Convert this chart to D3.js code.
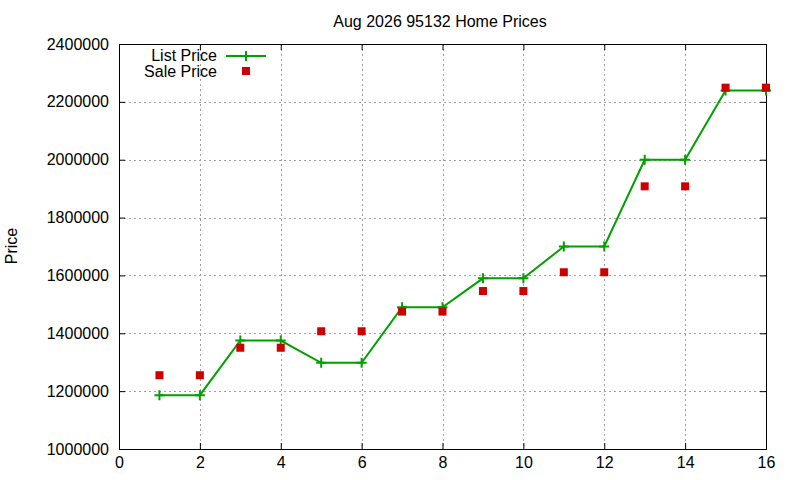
<!DOCTYPE html>
<html>
<head>
<meta charset="utf-8">
<script src="https://cdn.jsdelivr.net/npm/d3@7"></script>
<style>
  body { margin: 0; background: #fff; }
  text { font-family: "Liberation Sans", Arial, sans-serif; fill: #000; }
</style>
</head>
<body>
<script>
// data
const xs = [1, 2, 3, 4, 5, 6, 7, 8, 9, 10, 11, 12, 13, 14, 15, 16];
const listPrice = [1186000, 1186000, 1375000, 1375000, 1298000, 1298000, 1490000, 1490000,
                   1590000, 1590000, 1700000, 1700000, 2000000, 2000000, 2239000, 2239000];
const salePrice = [1255000, 1255000, 1350000, 1350000, 1407000, 1407000, 1475000, 1475000,
                   1546000, 1546000, 1611000, 1611000, 1908000, 1908000, 2249000, 2249000];
const xTicks = [0, 2, 4, 6, 8, 10, 12, 14, 16];
const yTicks = [1000000, 1200000, 1400000, 1600000, 1800000, 2000000, 2200000, 2400000];

const width = 800, height = 480;
const margin = { top: 44, right: 34, bottom: 31, left: 119 };

const svg = d3.select("body").append("svg")
    .attr("width", width)
    .attr("height", height);

const x = d3.scaleLinear().domain([0, 16]).range([margin.left, width - margin.right]);
const y = d3.scaleLinear().domain([1000000, 2400000]).range([height - margin.bottom, margin.top]);

// grid
const grid = svg.append("g").attr("stroke", "#a0a0a0").attr("stroke-width", 1).attr("stroke-dasharray", "2,3");
grid.selectAll(".gx").data(xTicks.slice(1, -1)).join("line")
    .attr("x1", d => Math.round(x(d)) + 0.5).attr("x2", d => Math.round(x(d)) + 0.5)
    .attr("y1", y.range()[1]).attr("y2", y.range()[0]);
grid.selectAll(".gy").data(yTicks.slice(1, -1)).join("line")
    .attr("y1", d => Math.round(y(d)) + 0.5).attr("y2", d => Math.round(y(d)) + 0.5)
    .attr("x1", x.range()[0]).attr("x2", x.range()[1]);

// axes, ticks pointing inward, mirrored like gnuplot
const fontSize = "16px";
const xAxis = svg.append("g")
    .attr("transform", `translate(0,${height - margin.bottom})`)
    .call(d3.axisBottom(x).tickValues(xTicks).tickSize(-6).tickPadding(8));
const xAxisTop = svg.append("g")
    .attr("transform", `translate(0,${margin.top})`)
    .call(d3.axisTop(x).tickValues(xTicks).tickSize(-6).tickFormat(""));
const yAxis = svg.append("g")
    .attr("transform", `translate(${margin.left},0)`)
    .call(d3.axisLeft(y).tickValues(yTicks).tickSize(-6).tickPadding(10).tickFormat(d3.format("d")));
const yAxisRight = svg.append("g")
    .attr("transform", `translate(${width - margin.right},0)`)
    .call(d3.axisRight(y).tickValues(yTicks).tickSize(-6).tickFormat(""));

[xAxis, xAxisTop, yAxis, yAxisRight].forEach(g => {
    g.select(".domain").remove();
    g.selectAll("line").attr("stroke", "#000");
    g.selectAll("text").style("font-size", fontSize).attr("font-family", null);
});

// frame
svg.append("rect")
    .attr("x", margin.left + 0.5).attr("y", margin.top + 0.5)
    .attr("width", x.range()[1] - x.range()[0])
    .attr("height", y.range()[0] - y.range()[1])
    .attr("fill", "none").attr("stroke", "#000").attr("stroke-width", 1);

// list price line
const green = "#00a000";
const line = d3.line().x((d, i) => x(xs[i])).y(d => y(d));
svg.append("path").datum(listPrice)
    .attr("d", line)
    .attr("fill", "none").attr("stroke", green).attr("stroke-width", 2);

// plus markers
svg.selectAll(".plus").data(listPrice).join("path")
    .attr("d", (d, i) => {
        const cx = x(xs[i]), cy = y(d);
        return `M${cx - 5},${cy}H${cx + 5}M${cx},${cy - 5}V${cy + 5}`;
    })
    .attr("stroke", green).attr("stroke-width", 2);

// sale price squares
const red = "#cc0000";
svg.selectAll(".sq").data(salePrice).join("rect")
    .attr("x", (d, i) => x(xs[i]) - 4)
    .attr("y", d => y(d) - 4)
    .attr("width", 8).attr("height", 8)
    .attr("fill", red);

// title and y label
svg.append("text")
    .attr("x", 440).attr("y", 27)
    .attr("text-anchor", "middle")
    .style("font-size", fontSize)
    .text("Aug 2026 95132 Home Prices");

svg.append("text")
    .attr("transform", "translate(17,246) rotate(-90)")
    .attr("text-anchor", "middle")
    .style("font-size", fontSize)
    .text("Price");

// legend
const legend = svg.append("g");
legend.append("text").attr("x", 217).attr("y", 61).attr("text-anchor", "end")
    .style("font-size", fontSize).text("List Price");
legend.append("line").attr("x1", 226).attr("x2", 266).attr("y1", 56).attr("y2", 56)
    .attr("stroke", green).attr("stroke-width", 2);
legend.append("path").attr("d", "M241,56H251M246,51V61").attr("stroke", green).attr("stroke-width", 2);
legend.append("text").attr("x", 217).attr("y", 77).attr("text-anchor", "end")
    .style("font-size", fontSize).text("Sale Price");
legend.append("rect").attr("x", 242).attr("y", 67).attr("width", 8).attr("height", 8).attr("fill", red);
</script>
</body>
</html>
